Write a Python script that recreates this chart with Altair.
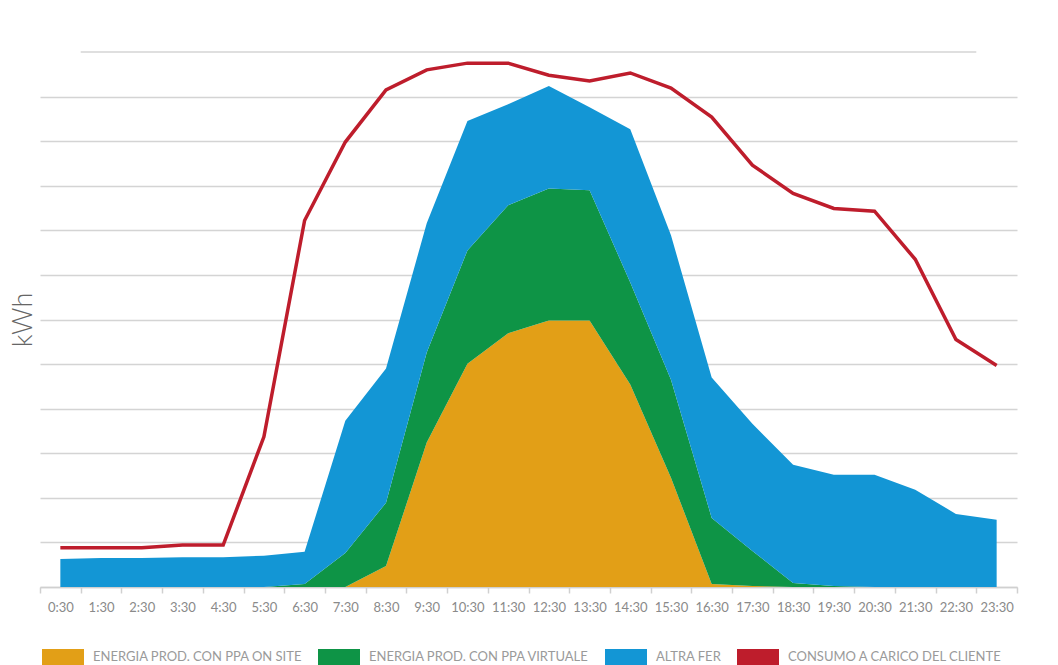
import altair as alt
import pandas as pd

hours = ["0:30", "1:30", "2:30", "3:30", "4:30", "5:30", "6:30", "7:30", "8:30", "9:30",
         "10:30", "11:30", "12:30", "13:30", "14:30", "15:30", "16:30", "17:30", "18:30",
         "19:30", "20:30", "21:30", "22:30", "23:30"]

series_names = ["ENERGIA PROD. CON PPA ON SITE", "ENERGIA PROD. CON PPA VIRTUALE",
                "ALTRA FER", "CONSUMO A CARICO DEL CLIENTE"]
series_colors = ["#E29F17", "#0E9446", "#1396D5", "#BE1D2C"]

ppa_on_site = [0, 0, 0, 0, 0, 0, 0, 0, 0.47, 3.24, 5.01, 5.69, 5.98, 5.98, 4.54, 2.45,
               0.07, 0.02, 0, 0, 0, 0, 0, 0]
ppa_virtuale = [0, 0, 0, 0, 0, 0, 0.07, 0.76, 1.42, 2.02, 2.54, 2.87, 2.96, 2.92, 2.29, 2.20,
                1.48, 0.79, 0.09, 0.02, 0, 0, 0, 0]
altra_fer = [0.63, 0.65, 0.65, 0.67, 0.67, 0.70, 0.72, 2.97, 3.01, 2.90, 2.90, 2.27, 2.30, 1.86,
             3.44, 3.24, 3.15, 2.85, 2.65, 2.50, 2.52, 2.18, 1.64, 1.51]
consumo = [0.88, 0.88, 0.88, 0.94, 0.94, 3.37, 8.22, 9.98, 11.15, 11.60, 11.75, 11.75, 11.48,
           11.35, 11.53, 11.19, 10.54, 9.46, 8.83, 8.49, 8.43, 7.35, 5.55, 4.97]

grid_levels = list(range(12))
top_grid = {"x": 0.5, "x2": 22.5, "y": 12}

rows = []
for order, (name, vals) in enumerate(zip(series_names[:3], [ppa_on_site, ppa_virtuale, altra_fer])):
    for i, v in enumerate(vals):
        rows.append({"idx": i, "value": v, "serie": name, "ord": order})
area_df = pd.DataFrame(rows)
line_df = pd.DataFrame({"idx": list(range(len(hours))), "value": consumo,
                        "serie": series_names[3]})
top_df = pd.DataFrame([top_grid])

arr = "[" + ",".join("'" + h + "'" for h in hours) + "]"
label_expr = f"(datum.value + 0.5) < {len(hours)} ? {arr}[datum.value + 0.5] : ''"

x_scale = alt.Scale(domain=[-0.5, len(hours) - 0.5], nice=False, zero=False)
y_scale = alt.Scale(domain=[0, 12], nice=False)
color_scale = alt.Scale(domain=series_names, range=series_colors)

x_axis = alt.Axis(values=[i - 0.5 for i in range(len(hours) + 1)], labelExpr=label_expr,
                  labelOffset=20.35, grid=False, title=None, labelOverlap=False,
                  labelFlush=False, labelBound=False, labelFont="Lato", labelFontSize=13,
                  labelColor="#8a8a8a", labelPadding=8, tickColor="#d0d0d0", tickSize=6,
                  tickWidth=1.5, domainColor="#d0d0d0", domainWidth=1.5)
y_axis = alt.Axis(values=grid_levels, grid=True, labels=False, ticks=False, domain=False,
                  title="kWh", titleFont="Lato", titleFontSize=27, titleFontWeight=300,
                  titleColor="#666666", titlePadding=3, gridColor="#d4d4d4", gridWidth=1.5)

areas = alt.Chart(area_df).mark_area(opacity=1).encode(
    x=alt.X("idx:Q", scale=x_scale, axis=x_axis),
    y=alt.Y("value:Q", stack="zero", scale=y_scale, axis=y_axis),
    color=alt.Color("serie:N", scale=color_scale, sort=series_names,
                    legend=alt.Legend(
                        title=None, orient="none", direction="horizontal",
                        legendX=2, legendY=584,
                        symbolType="M-1,-0.4L1,-0.4L1,0.4L-1,0.4Z", symbolSize=1764,
                        symbolStrokeWidth=0, symbolOpacity=1,
                        labelFont="Lato", labelFontSize=13, labelColor="#9a9a9a",
                        labelOffset=9, columnPadding=15, labelLimit=400, padding=0)),
    order=alt.Order("ord:Q"),
)

top_rule = alt.Chart(top_df).mark_rule(color="#d4d4d4", strokeWidth=1.5).encode(
    x=alt.X("x:Q", scale=x_scale), x2="x2:Q", y=alt.Y("y:Q", scale=y_scale))

line = alt.Chart(line_df).mark_line(strokeWidth=3.5, strokeJoin="miter").encode(
    x=alt.X("idx:Q", scale=x_scale),
    y=alt.Y("value:Q", scale=y_scale),
    color=alt.Color("serie:N", scale=color_scale, legend=None),
)

chart = alt.layer(top_rule, areas, line).properties(
    width=977, height=535,
    autosize=alt.AutoSizeParams(type="none"),
    padding={"left": 32, "top": 44, "right": 33, "bottom": 78},
    background="#ffffff",
).configure_view(stroke=None)

chart.save("out.html", embed_options={"renderer": "svg", "actions": False})
